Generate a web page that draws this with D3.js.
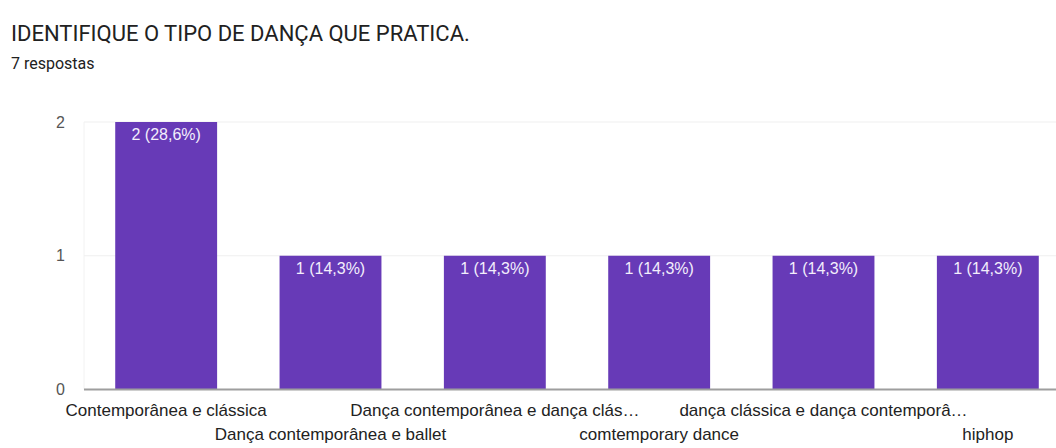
<!DOCTYPE html>
<html>
<head>
<meta charset="utf-8">
<script src="https://cdn.jsdelivr.net/npm/d3@7"></script>
<style>
  body { margin: 0; background: #fff; overflow: hidden; }
  .title { font-family: Roboto, sans-serif; font-size: 22px; fill: #212121; }
  .sub { font-family: Roboto, sans-serif; font-size: 16px; fill: #212121; }
  .tick text { font-family: "Liberation Sans", Arial, sans-serif; font-size: 16px; fill: #555; }
  .xlab { font-family: "Liberation Sans", Arial, sans-serif; font-size: 17px; fill: #222; }
  .val { font-family: "Liberation Sans", Arial, sans-serif; font-size: 16px; fill: #f3eefc; }
</style>
</head>
<body>
<script>
(function(){

//chart data
var categories = ["Contemporânea e clássica", "Dança contemporânea e ballet", "Dança contemporânea e dança clás…",
                  "comtemporary dance", "dança clássica e dança contemporâ…", "hiphop"];
var counts = [2, 1, 1, 1, 1, 1];
var valueLabels = ["2 (28,6%)", "1 (14,3%)", "1 (14,3%)", "1 (14,3%)", "1 (14,3%)", "1 (14,3%)"];
var yTicks = [0, 1, 2];

var width = 1056, height = 448;
var left = 84, right = 1070, top = 122, bottom = 389.5;

var svg = d3.select("body").append("svg")
    .attr("width", width)
    .attr("height", height)
    .style("display", "block");

svg.append("text").attr("class", "title")
    .attr("x", 11).attr("y", 41)
    .text("IDENTIFIQUE O TIPO DE DANÇA QUE PRATICA.");
svg.append("text").attr("class", "sub")
    .attr("x", 11).attr("y", 69)
    .text("7 respostas");

var x = d3.scaleBand()
    .domain(categories)
    .range([left, right])
    .paddingInner(0.38)
    .paddingOuter(0.19);

var y = d3.scaleLinear()
    .domain([0, 2])
    .range([bottom, top]);

//gridlines
svg.selectAll(".grid")
    .data(yTicks.slice(1))
    .enter().append("line")
    .attr("x1", left).attr("x2", right)
    .attr("y1", function(d){ return y(d); })
    .attr("y2", function(d){ return y(d); })
    .attr("stroke", "#efefef");

svg.append("line")
    .attr("x1", left).attr("x2", left)
    .attr("y1", top).attr("y2", bottom)
    .attr("stroke", "#f2f2f2");

//y axis
var yAxis = svg.append("g")
    .attr("transform", "translate(" + left + ",0)")
    .call(d3.axisLeft(y).tickValues(yTicks).tickFormat(d3.format("d")).tickSize(0).tickPadding(19));
yAxis.select(".domain").remove();

//bars
svg.selectAll(".bar")
    .data(categories)
    .enter().append("rect")
    .attr("class", "bar")
    .attr("x", function(d){ return x(d); })
    .attr("width", x.bandwidth())
    .attr("y", function(d, i){ return y(counts[i]); })
    .attr("height", function(d, i){ return bottom - y(counts[i]); })
    .attr("fill", "#673ab7");

svg.selectAll(".val")
    .data(categories)
    .enter().append("text")
    .attr("class", "val")
    .attr("text-anchor", "middle")
    .attr("x", function(d){ return x(d) + x.bandwidth() / 2; })
    .attr("y", function(d, i){ return y(counts[i]) + 18; })
    .text(function(d, i){ return valueLabels[i]; });

//baseline
svg.append("line")
    .attr("x1", left).attr("x2", right)
    .attr("y1", bottom).attr("y2", bottom)
    .attr("stroke", "#9e9e9e")
    .attr("stroke-width", 2);

//x labels, staggered in two rows
svg.selectAll(".xlab")
    .data(categories)
    .enter().append("text")
    .attr("class", "xlab")
    .attr("text-anchor", "middle")
    .attr("x", function(d){ return x(d) + x.bandwidth() / 2; })
    .attr("y", function(d, i){ return i % 2 == 0 ? 416 : 440; })
    .text(function(d){ return d; });

})();
</script>
</body>
</html>
